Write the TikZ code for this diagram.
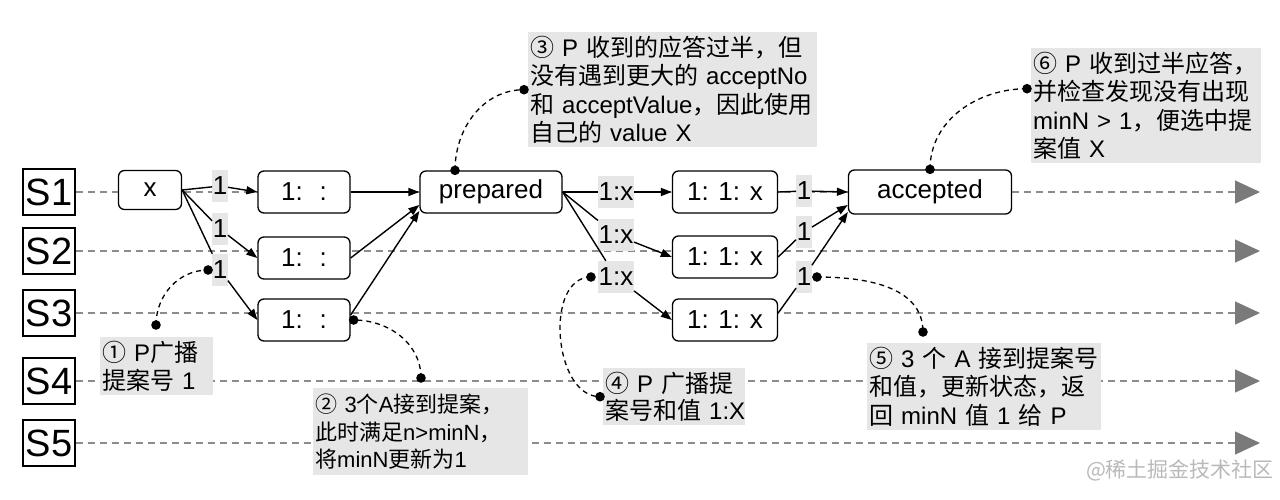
\documentclass[tikz,border=0pt]{standalone}
\usepackage{fontspec}
\setmainfont{Liberation Sans}
\newfontfamily\zhfont{Noto Sans CJK SC}
\newcommand{\zh}[1]{{\zhfont #1}}
\usetikzlibrary{arrows.meta}
\definecolor{notegray}{HTML}{E6E6E6}
\definecolor{lanegray}{HTML}{8C8C8C}
\definecolor{tipgray}{HTML}{7A7A7A}

\begin{document}
\begin{tikzpicture}[x=1pt,y=1pt,
    lane/.style={lanegray, line width=1.2, dash pattern=on 7pt off 5pt, -{Triangle[length=25pt,width=23pt,color=tipgray]}},
    srv/.style={draw, line width=1.3, minimum width=52, minimum height=46, inner sep=0, font={\fontsize{38}{40}\selectfont}},
    state/.style={draw, fill=white, rounded corners=6, line width=1.3, minimum height=42, inner sep=2, font={\fontsize{26}{30}\selectfont}},
    msg/.style={fill=notegray, inner sep=0.5, minimum height=32, font={\fontsize{26}{30}\selectfont}},
    note/.style={fill=notegray, anchor=north west, align=left, inner xsep=2, inner ysep=0, font={\fontsize{24}{28.5}\selectfont}},
    edge/.style={line width=1.4, -{Triangle[length=11pt,width=8pt]}},
    conn/.style={line width=1.3, dash pattern=on 5pt off 4pt}]
    \useasboundingbox (0,0) rectangle (1280,-499);

    % servers and their lanes
    \foreach \i/\y in {1/192,2/251,3/313,4/381,5/443}{
        \node[srv] (s\i) at (49,-\y) {S\i};
        \coordinate (e\i) at (1260,-\y);
        \draw[lane] (s\i) -- (e\i);
    }

    \node[note, text width=109, minimum height=58] (n1) at (100,-337) {\zh{①}~P\zh{广播}\\ \zh{提案号}~1};
    \node[note, text width=211, minimum height=87, font={\fontsize{22}{27.5}\selectfont}] (n2) at (313,-388) {\zh{②}~3\zh{个}A\zh{接到提案，}\\ \zh{此时满足}n>minN\zh{，}\\ \zh{将}minN\zh{更新为}1};
    \node[note, text width=285, minimum height=115] (n3) at (528,-32) {\zh{③}~P~\zh{收到的应答过半，但}\\ \zh{没有遇到更大的}~acceptNo\\ \zh{和}~acceptValue\zh{，因此使用}\\ \zh{自己的}~value~X};
    \node[note, text width=138, minimum height=57, font={\fontsize{24}{27}\selectfont}] (n4) at (603,-368) {\zh{④}~P~\zh{广播提}\\ \zh{案号和值}~1:X};
    \node[note, text width=230, minimum height=87] (n5) at (867,-343) {\zh{⑤}~3~\zh{个}~A~\zh{接到提案号}\\ \zh{和值，更新状态，返}\\ \zh{回}~minN~\zh{值}~1~\zh{给}~P};
    \node[note, text width=226, minimum height=115] (n6) at (1031,-48) {\zh{⑥}~P~\zh{收到过半应答，}\\ \zh{并检查发现没有出现}\\ minN~>~1\zh{，便选中提}\\ \zh{案值}~X};

    \node[state, minimum width=63, minimum height=39] (x) at (150,-190) {x};
    \node[state, minimum width=92] (a1) at (304,-192) {1: \ :};
    \node[state, minimum width=92] (a2) at (304,-258) {1: \ :};
    \node[state, minimum width=92] (a3) at (304,-320) {1: \ :};
    \node[state, minimum width=142] (prep) at (491,-192) {prepared};
    \node[state, minimum width=105] (b1) at (725,-192) {1: 1: x};
    \node[state, minimum width=105] (b2) at (725,-257) {1: 1: x};
    \node[state, minimum width=105] (b3) at (725,-320) {1: 1: x};
    \node[state, minimum width=163, minimum height=44] (acc) at (930,-192) {accepted};

    \node[msg] (p1) at (220,-186) {1};
    \node[msg] (p2) at (220,-229) {1};
    \node[msg] (p3) at (220,-270) {1};
    \node[msg] (q1) at (616,-192) {1:x};
    \node[msg] (q2) at (616,-235) {1:x};
    \node[msg] (q3) at (616,-277) {1:x};
    \node[msg] (r1) at (804,-191) {1};
    \node[msg] (r2) at (804,-232) {1};
    \node[msg] (r3) at (804,-277) {1};

    \draw[edge] (x.east) -- (p1) -- (a1.west);
    \draw[edge] (x.east) -- (p2) -- (a2.west);
    \draw[edge] (x.east) -- (p3) -- (a3.west);
    \draw[edge] (a1.east) -- (prep.west);
    \draw[edge] (a2.east) -- ([yshift=-13]prep.west);
    \draw[edge] ([yshift=5]a3.east) -- ([yshift=-19]prep.west);
    \draw[edge] (prep.east) -- (q1) -- (b1.west);
    \draw[edge] (prep.east) -- (q2) -- (b2.west);
    \draw[edge] (prep.east) -- (q3) -- (b3.west);
    \draw[edge] (b1.east) -- (r1) -- (acc.west);
    \draw[edge] (b2.east) -- (r2) -- ([yshift=-13]acc.west);
    \draw[edge] ([yshift=7]b3.east) -- (r3) -- ([yshift=-20]acc.west);

    % notes hooked to the diagram
    \coordinate (c1a) at (156,-325);
    \coordinate (c1b) at ([xshift=-4]p3.west);
    \coordinate (c2a) at (421,-378);
    \coordinate (c2b) at ([xshift=3]a3.east);
    \coordinate (c3a) at ([xshift=-36]prep.north);
    \coordinate (c3b) at ([xshift=-4]n3.west);
    \coordinate (c4a) at ([xshift=-7]q3.west);
    \coordinate (c4b) at ([xshift=-3]n4.west);
    \coordinate (c5a) at ([xshift=5]r3.east);
    \coordinate (c5b) at (923,-332);
    \coordinate (c6a) at (acc.north);
    \coordinate (c6b) at ([shift={(-4,17)}]n6.west);
    \draw[conn] (c1a) to[out=90,in=180] (c1b);
    \draw[conn] (c2a) to[out=90,in=0] (c2b);
    \draw[conn] (c3a) to[out=90,in=180] (c3b);
    \draw[conn] (c4a) to[out=180,in=180] (c4b);
    \draw[conn] (c5a) to[out=0,in=90] (c5b);
    \draw[conn] (c6a) to[out=90,in=180] (c6b);
    \foreach \p in {c1a,c1b,c2a,c2b,c3a,c3b,c4a,c4b,c5a,c5b,c6a,c6b}
        \fill (\p) circle (4.8);

    \node[text=gray!55, font={\fontsize{21}{24}\selectfont\zhfont}] (wm) at (1180,-470) {@稀土掘金技术社区};
\end{tikzpicture}
\end{document}
